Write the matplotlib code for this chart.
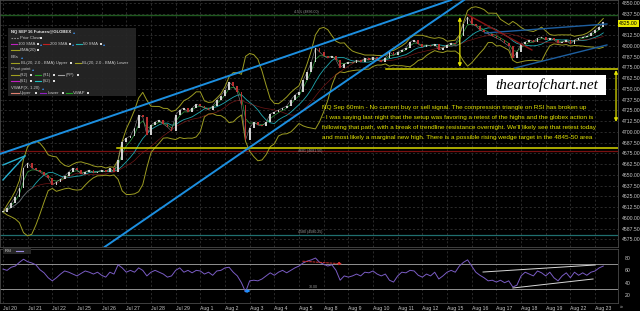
import numpy as np
import pandas as pd
import matplotlib
matplotlib.use("Agg")
import matplotlib.pyplot as plt
from matplotlib.patches import Rectangle
from matplotlib.lines import Line2D

# ---------------- data ----------------
day_labels = ["Jul 20", "Jul 21", "Jul 22", "Jul 25", "Jul 26", "Jul 27", "Jul 28", "Jul 29",
              "Aug 1", "Aug 2", "Aug 3", "Aug 4", "Aug 5", "Aug 8", "Aug 9", "Aug 10",
              "Aug 11", "Aug 12", "Aug 15", "Aug 16", "Aug 17", "Aug 18", "Aug 19",
              "Aug 22", "Aug 23"]
bars_per_day = 6

close = [4607, 4611.6, 4617.4, 4624.4, 4634.9, 4658.1, 4663.9, 4658.1, 4655.8, 4653.5,
         4650.0, 4646.5, 4638.3, 4641.8, 4645.3, 4648.8, 4653.5, 4658.1, 4655.8, 4651.1,
         4653.5, 4655.8, 4652.3, 4653.5, 4655.8, 4653.5, 4658.1, 4653.5, 4667.4, 4688.4,
         4693.0, 4695.3, 4704.6, 4719.8, 4717.4, 4696.5, 4708.1, 4711.6, 4713.9, 4709.3,
         4705.8, 4701.1, 4719.8, 4725.6, 4727.9, 4723.2, 4727.9, 4732.5, 4730.2, 4727.9,
         4725.6, 4730.2, 4737.2, 4741.9, 4748.8, 4758.1, 4753.5, 4746.5, 4731.4, 4690.7,
         4704.6, 4711.6, 4708.1, 4707.0, 4711.6, 4720.9, 4723.2, 4725.6, 4727.9, 4730.2,
         4737.2, 4743.0, 4746.5, 4760.5, 4769.8, 4781.4, 4797.7, 4793.0, 4788.4, 4786.0,
         4788.4, 4783.7, 4774.4, 4779.1, 4781.4, 4780.2, 4783.7, 4781.4, 4786.0, 4783.7,
         4787.2, 4783.7, 4781.4, 4786.0, 4793.0, 4789.5, 4793.0, 4795.4, 4797.7, 4804.7,
         4807.0, 4802.3, 4798.8, 4801.2, 4800.0, 4802.3, 4795.4, 4797.7, 4801.2, 4803.5,
         4802.3, 4811.6, 4825.6, 4833.7, 4825.6, 4823.3, 4818.6, 4816.3, 4814.0, 4811.6,
         4809.3, 4807.0, 4803.5, 4800.0, 4786.0, 4793.0, 4802.3, 4804.7, 4807.0, 4804.7,
         4809.3, 4810.5, 4807.0, 4809.3, 4807.0, 4803.5, 4804.7, 4807.0, 4802.3, 4807.0,
         4809.3, 4810.5, 4811.6, 4815.1, 4818.6, 4822.1, 4827.9]

rsi = [62, 60, 65, 67, 73, 78, 74, 72, 69, 61, 56, 48, 43, 48, 54, 59, 57, 54, 51, 55,
       59, 57, 54, 57, 52, 49, 57, 54, 69, 64, 57, 60, 57, 64, 60, 51, 57, 60, 57, 54,
       49, 51, 60, 64, 57, 60, 56, 60, 59, 54, 57, 52, 59, 60, 64, 65, 57, 51, 40, 25,
       43, 44, 43, 46, 51, 56, 52, 57, 60, 56, 60, 64, 67, 72, 75, 77, 80, 73, 70, 67,
       69, 60, 44, 51, 49, 51, 54, 51, 57, 56, 59, 54, 51, 54, 44, 41, 51, 57, 56, 60,
       59, 52, 49, 54, 51, 57, 46, 51, 57, 60, 57, 67, 73, 77, 67, 57, 52, 48, 43, 44,
       41, 44, 40, 43, 33, 36, 51, 57, 54, 51, 59, 56, 51, 57, 48, 43, 51, 56, 48, 57,
       52, 56, 52, 57, 59, 64, 67]

price_ticks = [4575 + 12.5 * i for i in range(23)]
rsi_ticks = [20, 40, 60, 80]
last_label = "4825.00"

# trendlines (day index, price)
upper_channel_d, upper_channel_p = [0.0, 8.67], [4675.6, 4760.5]
steep_support_d, steep_support_p = [4.18, 12.73], [4567.4, 4736.0]
left_line_a_d, left_line_a_p = [0.0, 0.89], [4661.6, 4672.1]
left_line_b_d, left_line_b_p = [0.0, 0.89], [4644.2, 4672.1]
tri_upper_d, tri_upper_p = [19.54, 24.48], [4815.1, 4825.6]
tri_lower_d, tri_lower_p = [20.75, 24.48], [4774.4, 4801.2]
red_line_d, red_line_p = [18.85, 21.44], [4836.1, 4795.4]

green_level = 4836.0
red_level = 4677.9
teal_level = 4580.2
yellow_hi_level, yellow_hi_start = 4773.3, 15.53
yellow_lo_level, yellow_lo_start = 4681.4, 4.62
arrow1_d, arrow1_p = 18.52, [4833.7, 4775.6]
arrow2_d, arrow2_p = 24.85, [4772.0, 4711.6]

rsi_tri_upper_d, rsi_tri_upper_v = [19.46, 24.0], [57.3, 68.7]
rsi_tri_lower_d, rsi_tri_lower_v = [20.67, 23.92], [31.4, 46.0]
rsi_red_d, rsi_red_v = [12.04, 13.86], [75.1, 70.3]
rsi_blue_d, rsi_blue_v = [9.7, 10.15], [26.0, 27.0]

note_lines = [
    "NQ Sep 60min - No current buy or sell signal. The compression triangle on RSI has broken up",
    "- I was saying last night that the setup was favoring a retest of the highs and the globex action is",
    "following that path, with a break of trendline resistance overnight. We'll likely see that retest today",
    "and most likely a marginal new high. There is a possible rising wedge target in the 4845-50 area",
]

# ---------------- figure ----------------
W, H = 640, 311
fig = plt.figure(figsize=(6.4, 3.11), dpi=100, facecolor="black")
plt.rcParams["font.family"] = ["Liberation Sans", "DejaVu Sans"]


def fx(px):
    return px / W


def fy(py):
    return 1 - py / H


ax = fig.add_axes([fx(0), fy(247), fx(618), 247 / H])
rax = fig.add_axes([fx(0), fy(303), fx(618), (303 - 249) / H])
for a in (ax, rax):
    a.set_facecolor("black")
    for sp in a.spines.values():
        sp.set_color("#4a4a4a")
        sp.set_linewidth(0.6)
    a.set_xlim(-0.12, 24.93)

grid_kw = dict(color="#3c3c3c", lw=0.5, ls=(0, (3, 3)), zorder=0)
ndays = len(day_labels)
for d in range(ndays):
    ax.axvline(d, **grid_kw)
    rax.axvline(d, **grid_kw)
for p in price_ticks:
    ax.axhline(p, **grid_kw)

ax.set_ylim(4566.2, 4853.5)
rax.set_ylim(7.1, 94.6)

x = np.arange(len(close)) / bars_per_day
s = pd.Series(close, dtype=float)
opens = s.shift(1).fillna(s.iloc[0]).values
cl = s.values

# horizontal levels
ax.axhline(green_level, color="#1f5a1f", lw=1.0, zorder=1)
ax.axhline(red_level, color="#7a1010", lw=0.9, zorder=1)
ax.axhline(teal_level, color="#1f6f6f", lw=0.9, zorder=1)
ax.plot([yellow_hi_start, 25], [yellow_hi_level] * 2, color="#d8d800", lw=1.1, zorder=4)
ax.plot([yellow_lo_start, 25], [yellow_lo_level] * 2, color="#d8d800", lw=1.1, zorder=4)

# indicators (Bollinger bands and moving averages computed from the closes)
bb_mid = s.rolling(8, min_periods=1).mean()
bb_sd = s.rolling(8, min_periods=1).std(ddof=0)
ax.plot(x, bb_mid + 2.5 * bb_sd, color="#9c9c22", lw=0.7, zorder=2)
ax.plot(x, bb_mid - 2.5 * bb_sd, color="#9c9c22", lw=0.7, zorder=2)
ax.plot(x, s.rolling(8, min_periods=1).mean(), color="#20a8b0", lw=0.6, zorder=3)
ax.plot(x, s.ewm(span=3).mean(), color="#30a040", lw=0.5, zorder=3)
ax.plot(x, s.rolling(14, min_periods=1).mean(), color="#a02020", lw=0.5, alpha=0.7, zorder=3)

# candles
ax.plot(x, cl, color="#8a8a8a", lw=0.4, zorder=3)
up = cl >= opens
body = np.where(np.abs(cl - opens) < 0.8, 0.8, cl - opens)
ax.bar(x[up], body[up], bottom=opens[up], width=0.07, color="#d0d0d0",
       edgecolor="none", zorder=3)
ax.bar(x[~up], body[~up], bottom=opens[~up], width=0.07, color="#b83030",
       edgecolor="none", zorder=3)

# trendlines
ax.axline((upper_channel_d[0], upper_channel_p[0]), (upper_channel_d[1], upper_channel_p[1]),
          color="#1c8fe0", lw=1.4, zorder=5)
ax.axline((steep_support_d[0], steep_support_p[0]), (steep_support_d[1], steep_support_p[1]),
          color="#1c8fe0", lw=1.4, zorder=5)
ax.plot(left_line_a_d, left_line_a_p, color="#28b0d0", lw=1.0, zorder=5)
ax.plot(left_line_b_d, left_line_b_p, color="#28b0d0", lw=1.0, zorder=5)
ax.plot(tri_upper_d, tri_upper_p, color="#1e5fa0", lw=1.0, zorder=5)
ax.plot(tri_lower_d, tri_lower_p, color="#1e5fa0", lw=1.0, zorder=5)
ax.plot(red_line_d, red_line_p, color="#8a1414", lw=1.0, zorder=5)

for d_, (p0, p1) in ((arrow1_d, arrow1_p), (arrow2_d, arrow2_p)):
    ax.annotate("", xy=(d_, p0), xytext=(d_, p1),
                arrowprops=dict(arrowstyle="<|-|>", color="#e0e000", lw=0.9,
                                mutation_scale=5, shrinkA=0, shrinkB=0), zorder=6)

# small level labels
ax.text(11.8, green_level + 0.8, "4.5% (4836.00)", color="#9a9a9a", fontsize=2.6, va="bottom")
ax.text(11.95, yellow_lo_level - 1, "4681 (4681.50)", color="#9a9a9a", fontsize=2.6, va="top")
ax.text(11.95, teal_level + 0.8, "4580 (4580.25)", color="#9a9a9a", fontsize=2.6, va="bottom")

# price axis labels
ax.yaxis.tick_right()
ax.set_yticks(price_ticks)
ax.set_yticklabels(["" if f"{p:.2f}" == last_label else f"{p:.2f}" for p in price_ticks])
ax.tick_params(axis="y", length=0, pad=3, labelsize=3.7, labelcolor="#c8c8c8")
ax.set_xticks([])
fig.text(fx(619), fy(23.5), last_label, fontsize=3.7, color="black", va="center", ha="left",
         bbox=dict(boxstyle="square,pad=0.25", fc="#e8e800", ec="none"))

# RSI panel
rax.plot(x, rsi, color="#7a5cc4", lw=0.7, zorder=3)
rax.axhline(70, color="#a8a8a8", lw=0.6, zorder=2)
rax.axhline(30, color="#a8a8a8", lw=0.6, zorder=2)
rax.plot(rsi_tri_upper_d, rsi_tri_upper_v, color="#d8d8d8", lw=0.7, zorder=4)
rax.plot(rsi_tri_lower_d, rsi_tri_lower_v, color="#d8d8d8", lw=0.7, zorder=4)
rax.annotate("", xy=(rsi_red_d[1], rsi_red_v[1]), xytext=(rsi_red_d[0], rsi_red_v[0]),
             arrowprops=dict(arrowstyle="-|>", color="#d03030", lw=0.7, ls=(0, (2, 1.5)),
                             mutation_scale=4))
rax.annotate("", xy=(rsi_blue_d[1], rsi_blue_v[1]), xytext=(rsi_blue_d[0], rsi_blue_v[0]),
             arrowprops=dict(arrowstyle="-|>", color="#2090ff", lw=1.0, mutation_scale=4))
rax.text(12.4, 30.5, "30.00", color="#9a9a9a", fontsize=2.6, va="bottom")
rax.yaxis.tick_right()
rax.set_yticks(rsi_ticks)
rax.set_yticklabels([str(v) for v in rsi_ticks])
rax.tick_params(axis="y", length=0, pad=5, labelsize=3.7, labelcolor="#c8c8c8")
rax.set_xticks(range(ndays))
rax.set_xticklabels(day_labels, ha="left")
rax.tick_params(axis="x", length=0, pad=2.5, labelsize=3.7, labelcolor="#c8c8c8")
fig.text(fx(620), fy(307), "»", color="#c8c8c8", fontsize=3.7, va="center")

# RSI label box
fig.add_artist(Rectangle((fx(3), fy(254)), fx(28), 6 / H, transform=fig.transFigure,
                         fc="#262626", ec="none", zorder=5))
fig.text(fx(5), fy(251), "RSI", color="#e0e0e0", fontsize=3.0, va="center", zorder=6)
fig.add_artist(Line2D([fx(16), fx(23)], [fy(251)] * 2, color="#9a8ae0", lw=0.8,
                      transform=fig.transFigure, zorder=6))

# annotation text
for i, line in enumerate(note_lines):
    fig.text(fx(322), fy(107 + 10.2 * i), line, color="#e6e600", fontsize=4.6,
             va="center", ha="left", zorder=7)

# watermark
fig.add_artist(Rectangle((fx(487), fy(95)), fx(119), 20 / H, transform=fig.transFigure,
                         fc="white", ec="none", zorder=7))
fig.text(fx(546.5), fy(85.5), "theartofchart.net", family="Liberation Serif", style="italic",
         fontsize=11, color="black", ha="center", va="center", zorder=8)

# legend box
fig.add_artist(Rectangle((fx(8), fy(96)), fx(128), 68 / H, transform=fig.transFigure,
                         fc="#262626", ec="none", alpha=0.95, zorder=5))


def ltxt(px, py, t, c="#c8c8c8", w="normal"):
    fig.text(fx(px), fy(py), t, color=c, fontsize=3.1, va="center", ha="left", weight=w, zorder=6)


def lline(x0, x1, py, c, ls="-"):
    fig.add_artist(Line2D([fx(x0), fx(x1)], [fy(py)] * 2, color=c, lw=0.8, ls=ls,
                          transform=fig.transFigure, zorder=6))


def lsq(px, py):
    fig.add_artist(Rectangle((fx(px - 1.2), fy(py + 1.2)), fx(2.4), 2.4 / H,
                             transform=fig.transFigure, fc="#dcdcdc", ec="none", zorder=6))


def ltri(px, py):
    ltxt(px, py, "\u25b4", c="#3a8ee8")


ltxt(11, 32, "NQ SEP 16 Futures@GLOBEX", c="#e8e8e8", w="bold"); ltri(73, 32)
lline(11, 19, 38, "#909090", ls=(0, (1.5, 1))); ltxt(20, 38, "Prior Close"); lsq(41, 38)
lline(11, 17, 44, "#c020c0"); ltxt(18, 44, "100 SMA"); lsq(38, 44); ltri(40, 44)
lline(43, 49, 44, "#c02020"); ltxt(50, 44, "200 SMA"); lsq(70, 44); ltri(72, 44)
lline(76, 82, 44, "#20b0b0"); ltxt(83, 44, "50 SMA"); lsq(101, 44); ltri(103, 44)
lline(11, 19, 50, "#a0a020"); ltxt(20, 50, "EMA(20)"); lsq(38, 50)
ltxt(11, 57, "BBs"); ltri(21, 57)
lline(11, 19, 63, "#a0a020"); ltxt(21, 63, "BL(20, 2.0 - BMA) Upper"); lsq(71, 63)
lline(75, 81, 63, "#a0a020"); ltxt(82, 63, "BL(20, 2.0 - BMA) Lower")
ltxt(11, 69, "Pivot point"); ltri(32, 69)
lline(11, 19, 75, "#a0a020"); ltxt(20, 75, "(R2)"); lsq(31, 75)
lline(35, 41, 75, "#20a020"); ltxt(43, 75, "(R1)"); lsq(54, 75)
lline(58, 64, 75, "#a0a0a0"); ltxt(66, 75, "(PP)"); lsq(78, 75)
lline(11, 19, 81, "#c020c0"); ltxt(20, 81, "(S1)"); lsq(31, 81)
lline(35, 41, 81, "#20c0c0"); ltxt(43, 81, "(S2)"); lsq(54, 81)
ltxt(11, 88, "VWAP(X, 1.20)"); ltri(42, 88)
lline(11, 19, 93, "#e08070"); ltxt(20, 93, "Upper"); lsq(36, 93)
lline(40, 46, 93, "#9020c0"); ltxt(48, 93, "Lower"); lsq(63, 93)
lline(66, 72, 93, "#20a020"); ltxt(73, 93, "VWAP"); lsq(88, 93)

fig.savefig("out.png", dpi=100, facecolor="black")
